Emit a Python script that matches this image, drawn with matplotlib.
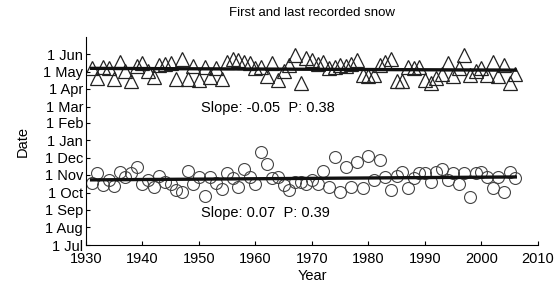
import numpy as np
import matplotlib
matplotlib.use("Agg")
import matplotlib.pyplot as plt

plt.rcParams['font.family'] = ['Liberation Sans', 'DejaVu Sans']

# Day of season: days since 1 Jul
years = list(range(1931, 2007))

last_snow = [310, 293, 313, 311, 292, 322, 306, 287, 314, 320, 305, 294, 316, 318, 320, 292,
             326, 291, 315, 289, 312, 294, 311, 292, 321, 326,
             324, 321, 320, 311, 313, 297, 319, 289, 306, 316, 334, 285, 329, 325, 318, 322,
             311, 313, 316, 315, 317, 325, 298, 296, 299, 316,
             321, 326, 287, 288, 312, 311, 313, 290, 285, 293, 300, 319, 297, 310, 334, 298,
             306, 311, 299, 322, 296, 316, 285, 300]

first_snow = [109, 126, 105, 115, 104, 129, 120, 126, 137, 107, 114, 102, 121, 111, 108, 97,
              94, 130, 108, 120, 86, 120, 109, 98, 126, 117, 102, 133, 120, 108, 164, 143,
              117, 120, 105, 97, 111, 111,
              108, 115, 108, 130, 102, 155, 94, 137, 102, 146, 100, 156, 114, 150, 120, 97,
              121, 129, 100, 118, 126, 126, 111, 129, 133, 114, 126, 108, 126, 84, 126, 129,
              120, 100, 120, 94, 129, 117]

tick_days = [0, 31, 62, 92, 123, 153, 184, 215, 243, 274, 304, 335]
tick_labels = ['1 Jul', '1 Aug', '1 Sep', '1 Oct', '1 Nov', '1 Dec', '1 Jan', '1 Feb',
               '1 Mar', '1 Apr', '1 May', '1 Jun']
year_ticks = list(range(1930, 2011, 10))

title = 'First and last recorded snow'
text_last = 'Slope: -0.05  P: 0.38'
text_first = 'Slope: 0.07  P: 0.39'

fig = plt.figure(figsize=(5.58, 2.87), dpi=100)
ax = fig.add_axes([0.154, 0.146, 0.810, 0.725])

yr = np.array(years)
ls = np.array(last_snow)
fs = np.array(first_snow)

ax.plot(yr, ls, linestyle='none', marker='^', markersize=9.5, markerfacecolor='none',
        markeredgecolor='#222222', markeredgewidth=0.9)
ax.plot(yr, fs, linestyle='none', marker='o', markersize=8.6, markerfacecolor='none',
        markeredgecolor='#444444', markeredgewidth=0.8)

for vals in (ls, fs):
    p = np.polyfit(yr, vals, 1)
    ax.plot(yr, np.polyval(p, yr), color='#111111', linewidth=2.4)

ax.text(1950.4, 240, text_last, fontsize=10.5, va='center', ha='left')
ax.text(1950.4, 56, text_first, fontsize=10.5, va='center', ha='left')

ax.set_xlim(1930, 2010)
ax.set_ylim(0, 365)
ax.set_xticks(year_ticks)
ax.set_yticks(tick_days)
ax.set_yticklabels(tick_labels)
ax.tick_params(direction='in', length=3, labelsize=10.5, width=0.8)
ax.tick_params(axis='y', pad=2)
ax.tick_params(axis='x', pad=5)
for s in ('top', 'right'):
    ax.spines[s].set_visible(False)
for s in ('left', 'bottom'):
    ax.spines[s].set_linewidth(0.8)
ax.set_xlabel('Year', fontsize=10.5, labelpad=2)
ax.set_ylabel('Date', fontsize=10.5, labelpad=10)
ax.set_title(title, fontsize=9.5, pad=15)

fig.savefig('out.png', dpi=100)
